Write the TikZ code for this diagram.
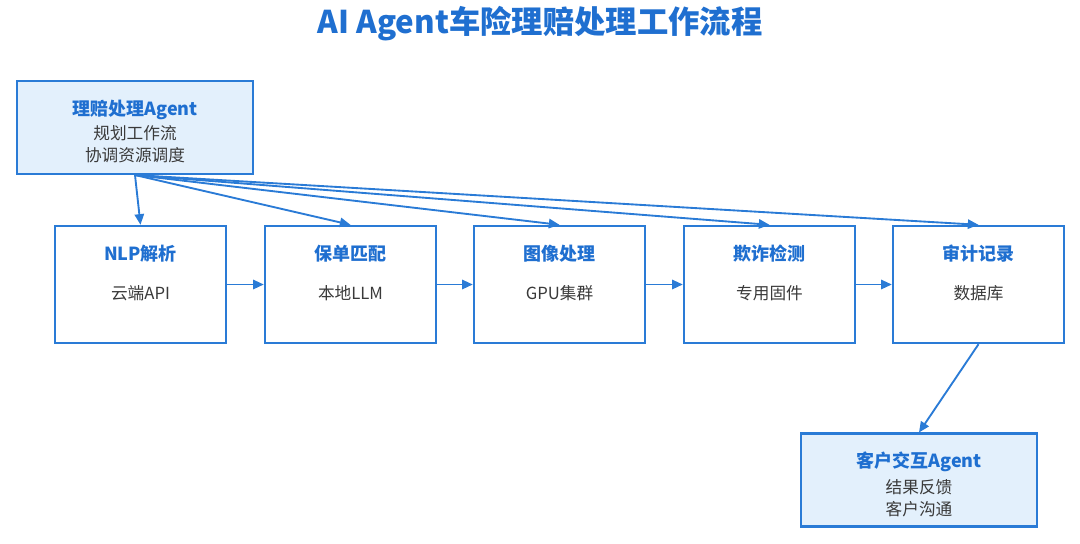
\documentclass[tikz,border=0pt]{standalone}
\usepackage{fontspec}
\setmainfont{Noto Sans CJK SC}
\usetikzlibrary{arrows.meta,calc}
\definecolor{mblue}{HTML}{2A7BD6}
\definecolor{tblue}{HTML}{1F6FD0}
\definecolor{lfill}{HTML}{E3F0FC}
\definecolor{tgray}{HTML}{3A3A3A}
\begin{document}
\begin{tikzpicture}[x=0.75pt,y=-0.75pt,
 stepbox/.style={draw=mblue,line width=1.8pt,fill=white,minimum width=128.25pt,minimum height=87.75pt,inner sep=0pt},
 agentbox/.style={draw=mblue,line width=1.8pt,fill=lfill,minimum width=177pt,minimum height=69.5pt,inner sep=0pt},
 ttl/.style={text=tblue,font=\bfseries\fontsize{13.5}{15}\selectfont,inner sep=0pt},
 sub/.style={text=tgray,font=\fontsize{12.5}{16.5}\selectfont,align=center,inner sep=0pt},
 arr/.style={draw=mblue,line width=1.4pt,-{Triangle[length=8pt,width=7pt]}}]
\useasboundingbox (0,0) rectangle (1080,543);
\node[text=tblue,font=\bfseries\fontsize{23.5}{28}\selectfont] (title) at (540,24) {AI Agent车险理赔处理工作流程};

\node[agentbox] (planner) at (135,127.5) {};
\node[ttl] (plannerT) at ($(planner.north)+(0,30)$) {理赔处理Agent};
\node[sub] (plannerS) at ($(planner.north)+(0,64)$) {规划工作流\\协调资源调度};

\node[stepbox] (nlp) at (140.5,284.5) {};
\node[stepbox] (policy) at (350.5,284.5) {};
\node[stepbox] (image) at (559.5,284.5) {};
\node[stepbox] (fraud) at (769.5,284.5) {};
\node[stepbox] (audit) at (978.5,284.5) {};

\node[ttl] (nlpT) at ($(nlp.north)+(0,29)$) {NLP解析};
\node[sub] (nlpS) at ($(nlp.north)+(0,68)$) {云端API};
\node[ttl] (policyT) at ($(policy.north)+(0,29)$) {保单匹配};
\node[sub] (policyS) at ($(policy.north)+(0,68)$) {本地LLM};
\node[ttl] (imageT) at ($(image.north)+(0,29)$) {图像处理};
\node[sub] (imageS) at ($(image.north)+(0,68)$) {GPU集群};
\node[ttl] (fraudT) at ($(fraud.north)+(0,29)$) {欺诈检测};
\node[sub] (fraudS) at ($(fraud.north)+(0,68)$) {专用固件};
\node[ttl] (auditT) at ($(audit.north)+(0,29)$) {审计记录};
\node[sub] (auditS) at ($(audit.north)+(0,68)$) {数据库};

\node[agentbox] (client) at (919,480) {};
\node[ttl] (clientT) at ($(client.north)+(0,29)$) {客户交互Agent};
\node[sub] (clientS) at ($(client.north)+(0,65.5)$) {结果反馈\\客户沟通};

\foreach \t in {nlp,policy,image,fraud,audit}
  \draw[arr] (planner.south) -- (\t.north);
\draw[arr] (nlp.east) -- (policy.west);
\draw[arr] (policy.east) -- (image.west);
\draw[arr] (image.east) -- (fraud.west);
\draw[arr] (fraud.east) -- (audit.west);
\draw[arr] (audit.south) -- (client.north);
\end{tikzpicture}
\end{document}
